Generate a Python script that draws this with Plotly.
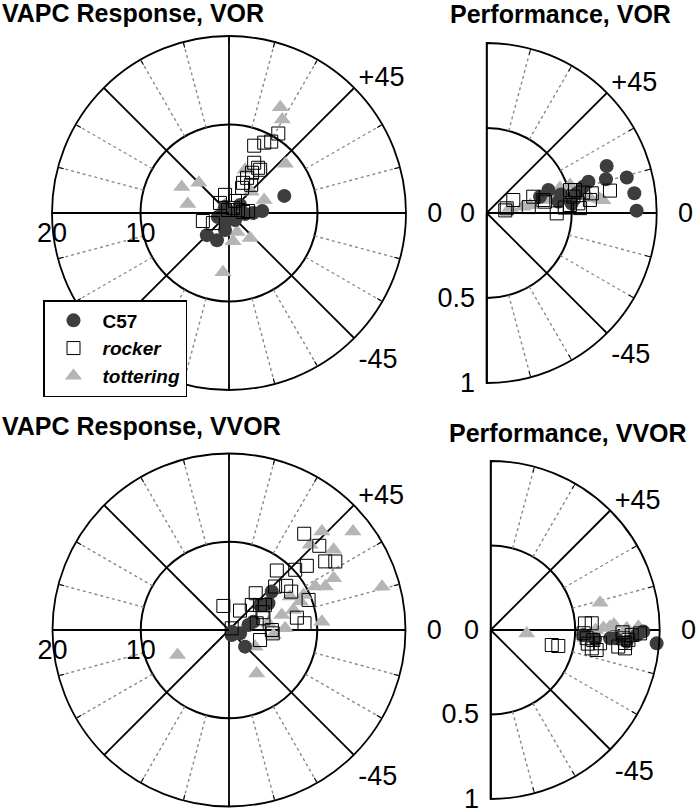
import plotly.graph_objects as go

W, H = 700, 810
FONT = "Arial, Liberation Sans, sans-serif"

# ---------------- data (r = gain, theta = phase in degrees) ----------------
# VAPC Response, VOR
vor_c57_r = [6.54, 3.76, 2.73, 1.82, 1.05, 0.82, 0.83, 1.33, 1.12, 1.98, 3.54, 3.36, 1.55, 0.16]
vor_c57_t = [17.2, 3.5, 0, -3.5, -49.4, 123.7, 196, 199.8, 246, 256.9, 225, 246.1, 36, 45]
vor_rock_r = [10.57, 9.37, 8.89, 8.12, 6.08, 6.35, 6.02, 5.24, 4.47, 3.76, 3.20, 4.05, 2.10, 1.53,
              1.52, 0.73, 1.08, 1.60, 0.36, 3.09, 2.15, 2.17]
vor_rock_t = [58.2, 59.4, 63.4, 69.5, 57.2, 63.4, 54.2, 60.2, 62.8, 65, 62.5, 51.8, 102.4, 131.8,
              63.4, 51.3, 18.4, 4, 108, 197.1, 212, 6]
vor_tot_r = [13.27, 12.16, 8.46, 6.10, 4.82, 4.77, 4.24, 5.21, 3.46, 2.34, 3.71, 3.21, 6.74, 1.02]
vor_tot_t = [64.1, 60.3, 41.2, 151.1, 135, 167.6, 20.4, 69.6, 43.7, -67.2, -49.9, -81.9, -95.8, 116]

# Performance, VOR
pvor_c57_r = [0.758, 0.729, 0.850, 0.876, 0.882, 0.626, 0.387, 0.328, 0.427, 0.542, 0.503, 0.589, 0.45]
pvor_c57_t = [21.4, 15.8, 14.2, 7.6, 0.9, 17.1, 20.4, 17, 9, 12.3, 6.5, 15.2, 14]
pvor_rock_r = [0.737, 0.629, 0.612, 0.537, 0.519, 0.492, 0.542, 0.412, 0.349, 0.290, 0.342, 0.174,
               0.121, 0.110, 0.508, 0.55, 0.46, 0.58, 0.25]
pvor_rock_t = [10.3, 10.6, 7.2, 14.6, 10.7, 5.5, 6, -0.3, 11, 19.3, 12.9, 26, 13.2, 8, 15.4, 3, 4, 12, 8]
pvor_tot_r = [0.217, 0.517, 0.455, 0.688, 0.614, 0.351, 0.57, 0.14, 0.26, 0.42, 0.67]
pvor_tot_t = [9.8, 18.6, 18.8, 6.3, 8.3, 12.5, 12, 12, 10, 14, 7]

# VAPC Response, VVOR
vvor_c57_r = [6.52, 5.4, 4.82, 4.5, 2.92, 2.27, 0.64, 1.31, 2.62, 0.4]
vvor_c57_t = [42, 34.1, 36, 39, 18.9, 14.5, -62, -16.9, -46.1, -30]
vvor_rock_r = [13.84, 13.99, 13.39, 14.33, 11.43, 10.14, 8.65, 8.18, 7.18, 8.28, 5.15, 9.64, 2.80,
               2.53, 3.84, 4.98, 4.5, 7.82, 8.59, 3.23, 4.85, 3.70, 4.97, 4.12, 0.36, 4.3]
vvor_rock_t = [52, 43, 35.5, 32.8, 39.5, 42.3, 51.2, 37.7, 43.3, 31.7, 54, 20.7, 103.2, 60.4, 47.8,
               34.8, 39, 10.3, 5.1, 13.6, 0, -17.9, -4.4, 18.8, 32, 28]
vvor_tot_r = [15.35, 17.95, 13.34, 14.94, 13.23, 11.97, 10.94, 18.03, 9.34, 7.90, 8.69, 6.22, 7.65,
              10.57, 6.36, 3.5, 5.84, 6.49, 5.07, 4.5]
vvor_tot_t = [46.7, 38.5, 46.4, 37.5, 26.3, 24.3, 26.7, 15.8, 25.2, 28.7, 21.8, 15.9, 17.3, 5.1,
              1.7, -32.7, -57.5, 206, -6.5, 10]

# Performance, VVOR
pvvor_c57_r = [1.042, 1.022, 1.004, 0.985, 0.738, 0.708, 0.865, 0.903, 0.808, 0.549, 0.62]
pvvor_c57_t = [2.2, 0, -3.4, -4.6, -3.8, -4.0, -2.0, -0.6, -4.9, -3.1, -5]
pvvor_rock_r = [0.559, 0.599, 0.570, 0.610, 0.652, 0.638, 0.787, 0.817, 0.802, 0.835, 0.884, 0.761,
                0.372, 0.411, 0.55, 0.608, 0.58, 0.80, 0.78]
pvvor_rock_t = [4.0, 3.8, -4.9, -5.6, -6.9, -10.7, -3.6, -4.1, -7.8, -2.0, -1.3, -7.4, -13.8, -13.3,
                -2, -10.3, -8, -5.5, -1]
pvvor_tot_r = [0.667, 0.214, 0.706, 0.667, 0.805, 0.874, 0.73, 0.56, 0.62]
pvvor_tot_t = [14.0, -5.4, 1.6, 1.0, 0.7, 1.3, 2.5, -5, 0]

# axes
resp_rings = [10, 20]
resp_ring_labels = ["10", "20"]
resp_label_angle = 180
perf_rings = [0, 0.5, 1]
perf_ring_labels = ["0", "0.5", "1"]
full_angles = list(range(0, 360, 15))
half_angles = list(range(-90, 91, 15))
angle_labels = {0: "\u20070", 45: "+45", 315: "-45", -45: "-45"}

titles = ["VAPC Response, VOR", "Performance, VOR", "VAPC Response, VVOR", "Performance, VVOR"]
group_names = ["<b>C57</b>", "<b><i>rocker</i></b>", "<b><i>tottering</i></b>"]

C57_COLOR = "#3d3d3d"
TOT_COLOR = "#b5b5b5"

fig = go.Figure()


def add_grid(subplot, angles, rmax):
    rin = rmax / 2
    solid_r, solid_t, dot_r, dot_t = [], [], [], []
    for a in angles:
        if a % 45 == 0:
            solid_r += [0, rmax, None]
            solid_t += [a, a, None]
        else:
            dot_r += [rin, rmax, None]
            dot_t += [a, a, None]
    fig.add_trace(go.Scatterpolar(r=dot_r, theta=dot_t, mode="lines", subplot=subplot,
                                  line=dict(color="#8a8a8a", width=1.4, dash="dot"),
                                  showlegend=False, hoverinfo="skip"))
    fig.add_trace(go.Scatterpolar(r=solid_r, theta=solid_t, mode="lines", subplot=subplot,
                                  line=dict(color="black", width=1.8),
                                  showlegend=False, hoverinfo="skip"))


def add_ring_labels(subplot):
    # radial tick labels drawn below the 180-degree spoke at each ring
    fig.add_trace(go.Scatterpolar(r=resp_rings, theta=[resp_label_angle] * len(resp_rings),
                                  text=resp_ring_labels, mode="markers+text", subplot=subplot,
                                  textposition="bottom center", cliponaxis=False,
                                  marker=dict(size=12, color="rgba(0,0,0,0)"),
                                  textfont=dict(family=FONT, size=27, color="black"),
                                  showlegend=False, hoverinfo="skip"))


def add_data(subplot, c57, rock, tot, legend):
    fig.add_trace(go.Scatterpolar(r=tot[0], theta=tot[1], mode="markers", subplot=subplot,
                                  name=group_names[2], legendrank=3, showlegend=legend,
                                  cliponaxis=False,
                                  marker=dict(symbol="triangle-up", size=15, color=TOT_COLOR)))
    fig.add_trace(go.Scatterpolar(r=c57[0], theta=c57[1], mode="markers", subplot=subplot,
                                  name=group_names[0], legendrank=1, showlegend=legend,
                                  cliponaxis=False,
                                  marker=dict(symbol="circle", size=14, color=C57_COLOR)))
    fig.add_trace(go.Scatterpolar(r=rock[0], theta=rock[1], mode="markers", subplot=subplot,
                                  name=group_names[1], legendrank=2, showlegend=legend,
                                  cliponaxis=False,
                                  marker=dict(symbol="square-open", size=13, color="black",
                                              line=dict(width=1, color="black"))))


add_grid("polar", full_angles, resp_rings[-1])
add_ring_labels("polar")
add_data("polar", (vor_c57_r, vor_c57_t), (vor_rock_r, vor_rock_t), (vor_tot_r, vor_tot_t), True)
add_grid("polar2", half_angles, perf_rings[-1])
add_data("polar2", (pvor_c57_r, pvor_c57_t), (pvor_rock_r, pvor_rock_t), (pvor_tot_r, pvor_tot_t), False)
add_grid("polar3", full_angles, resp_rings[-1])
add_ring_labels("polar3")
add_data("polar3", (vvor_c57_r, vvor_c57_t), (vvor_rock_r, vvor_rock_t), (vvor_tot_r, vvor_tot_t), False)
add_grid("polar4", half_angles, perf_rings[-1])
add_data("polar4", (pvvor_c57_r, pvvor_c57_t), (pvvor_rock_r, pvvor_rock_t), (pvvor_tot_r, pvvor_tot_t), False)

tickfont = dict(family=FONT, size=27, color="black")


def px_dom(x0, x1, y0, y1):
    return dict(x=[x0 / W, x1 / W], y=[1 - y1 / H, 1 - y0 / H])


def full_polar(dom):
    return dict(
        domain=dom, bgcolor="white",
        radialaxis=dict(range=[0, resp_rings[-1]], tickvals=resp_rings,
                        angle=resp_label_angle, showticklabels=False, showgrid=True,
                        gridcolor="black", gridwidth=1.8, showline=True, linecolor="black",
                        linewidth=1.8, ticks=""),
        angularaxis=dict(tickvals=full_angles,
                         ticktext=[angle_labels.get(a, "") for a in full_angles],
                         showgrid=False, showline=True, linecolor="black", linewidth=1.8,
                         ticks="inside", ticklen=5, tickcolor="black", tickwidth=1.2,
                         tickfont=tickfont, rotation=0, direction="counterclockwise"),
    )


def half_polar(dom):
    return dict(
        domain=dom, bgcolor="white", sector=[-90, 90],
        radialaxis=dict(range=[0, perf_rings[-1]], tickvals=perf_rings, ticktext=perf_ring_labels,
                        angle=-90, side="clockwise", tickangle=-90, showgrid=True,
                        gridcolor="black", gridwidth=1.8, showline=True, linecolor="black",
                        linewidth=1.8, ticks="", tickfont=tickfont),
        angularaxis=dict(tickvals=half_angles,
                         ticktext=[angle_labels.get(a, "") for a in half_angles],
                         showgrid=False, showline=True, linecolor="black", linewidth=1.8,
                         ticks="inside", ticklen=5, tickcolor="black", tickwidth=1.2,
                         tickfont=tickfont, rotation=0, direction="counterclockwise"),
    )


title_font = dict(family=FONT, size=25, color="black")
annotations = [
    dict(text="<b>" + titles[0] + "</b>", x=0 / W, y=1 - 13 / H, xanchor="left", yanchor="middle"),
    dict(text="<b>" + titles[1] + "</b>", x=560 / W, y=1 - 14 / H, xanchor="center", yanchor="middle"),
    dict(text="<b>" + titles[2] + "</b>", x=0 / W, y=1 - 426 / H, xanchor="left", yanchor="middle"),
    dict(text="<b>" + titles[3] + "</b>", x=568 / W, y=1 - 433 / H, xanchor="center", yanchor="middle"),
]
for a in annotations:
    a.update(xref="paper", yref="paper", showarrow=False, font=title_font)

fig.update_layout(
    width=W, height=H, margin=dict(l=0, r=0, t=0, b=0),
    paper_bgcolor="white", plot_bgcolor="white",
    polar=full_polar(px_dom(52, 406, 36, 390)),
    polar2=half_polar(px_dom(486.7, 656.7, 43, 383)),
    polar3=full_polar(px_dom(52.5, 405.5, 453.5, 806.5)),
    polar4=half_polar(px_dom(490.7, 659.7, 461, 799)),
    annotations=annotations,
    showlegend=True,
    legend=dict(x=43 / W, y=1 - 300 / H, xanchor="left", yanchor="top",
                bgcolor="white", bordercolor="black", borderwidth=1.5,
                font=dict(family=FONT, size=19, color="black"),
                tracegroupgap=0, itemwidth=48),
)

fig.write_html("out.html", config={"displayModeBar": False},
               post_script="document.body.style.margin='0';")
